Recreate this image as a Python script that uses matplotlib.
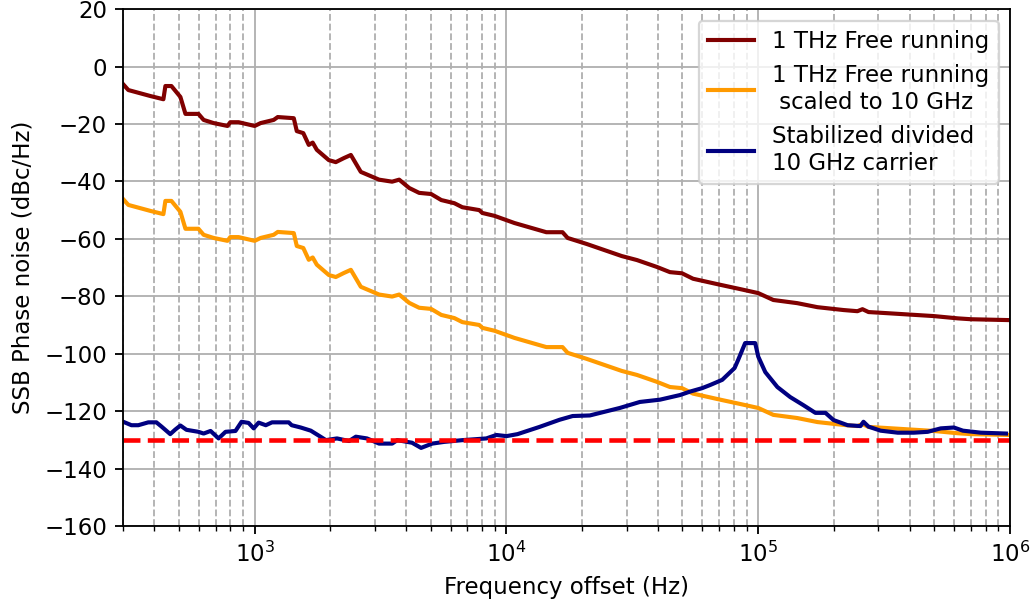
import numpy as np
import matplotlib.pyplot as plt

# 1 THz free running phase noise
f_free = [295, 315, 386, 434, 442, 467, 507, 531, 598, 627, 687, 780, 800, 863,
          1000, 1056, 1190, 1235, 1430, 1470, 1560, 1640, 1700, 1765, 1970, 2100,
          2260, 2410, 2640, 3120, 3515, 3750, 4110, 4500, 5020, 5510, 6210, 6680,
          7800, 8020, 8960, 10760, 14400, 16700, 17500, 20840, 28700, 33000,
          39600, 44600, 49800, 55100, 70600, 84700, 100000, 114800, 142900,
          171800, 218300, 247700, 259400, 274200, 326600, 498000, 621000,
          700000, 990000]
pn_free = [-5.4, -8.2, -10.3, -11.4, -6.8, -6.8, -10.6, -16.5, -16.5, -18.6,
           -19.7, -20.7, -19.4, -19.4, -20.7, -19.7, -18.6, -17.6, -18.0, -22.5,
           -23.2, -27.3, -26.5, -29.0, -32.6, -33.3, -31.9, -30.8, -36.7, -39.4,
           -40.1, -39.4, -42.3, -44.0, -44.4, -46.5, -47.6, -49.0, -50.0, -51.0,
           -52.0, -54.5, -57.7, -57.7, -59.7, -61.8, -66.0, -67.4, -69.8, -71.6,
           -72.0, -73.9, -76.0, -77.5, -78.9, -81.3, -82.4, -83.8, -84.8, -85.2,
           -84.5, -85.5, -85.9, -86.9, -87.7, -88.0, -88.3]

# scaling 1 THz -> 10 GHz: 20*log10(100) = 40 dB
scale_db = 20 * np.log10(1e12 / 10e9)
pn_scaled = np.array(pn_free) - scale_db

# stabilized divided 10 GHz carrier
f_stab = [295, 324, 345, 378, 407, 427, 462, 484, 507, 536, 598, 627, 668, 719,
          766, 839, 887, 946, 991, 1037, 1107, 1172, 1365, 1403, 1524, 1671,
          1803, 1919, 2123, 2371, 2523, 2793, 3119, 3516, 3681, 4217, 4581,
          5070, 5662, 6683, 8318, 9120, 10000, 11070, 13520, 16260, 18320,
          21430, 28180, 33880, 40740, 48870, 53580, 59840, 64420, 71940, 80530,
          83180, 88720, 97270, 100000, 106650, 119120, 133970, 151000, 168660,
          184930, 199070, 226460, 254680, 261820, 274160, 306200, 358100,
          414950, 470950, 530890, 598400, 650130, 765500, 963800]
pn_stab = [-123.4, -124.9, -124.9, -123.9, -123.9, -125.4, -128.0, -126.4,
           -125.0, -126.5, -127.2, -127.8, -126.9, -129.5, -127.2, -126.9,
           -123.7, -124.1, -126.0, -124.0, -124.9, -123.9, -123.9, -124.9,
           -125.7, -126.8, -128.6, -130.1, -129.5, -130.4, -128.9, -129.5,
           -131.3, -131.3, -130.1, -131.0, -132.8, -131.3, -130.7, -130.1,
           -129.5, -128.3, -128.7, -128.0, -125.5, -123.0, -121.7, -121.5,
           -118.9, -116.8, -116.0, -114.4, -113.2, -112.0, -110.9, -109.1,
           -105.0, -102.2, -96.3, -96.3, -101.0, -106.4, -111.6, -115.1,
           -117.9, -120.6, -120.6, -123.1, -124.9, -125.2, -123.7, -125.4,
           -126.8, -127.5, -127.5, -127.2, -126.0, -125.7, -126.8, -127.5,
           -127.8]

floor_db = -130

DPI = 165
fig, ax = plt.subplots(figsize=(1032 / DPI, 604 / DPI), dpi=DPI)

ax.semilogx(f_free, pn_free, color='#800000', lw=1.8, label='1 THz Free running')
ax.semilogx(f_free, pn_scaled, color='#ff9a00', lw=1.8,
            label='1 THz Free running\n scaled to 10 GHz')
ax.semilogx(f_stab, pn_stab, color='#000080', lw=1.8,
            label='Stabilized divided\n10 GHz carrier')
ax.axhline(floor_db, color='red', lw=2, ls='--')

ax.set_xlim(300, 1e6)
ax.set_ylim(-160, 20)
ax.set_yticks(np.arange(-160, 21, 20))

ax.grid(True, which='major', color='#b0b0b0')
ax.grid(True, which='minor', axis='x', color='#b0b0b0', ls='--')

ax.set_xlabel('Frequency offset (Hz)')
ax.set_ylabel('SSB Phase noise (dBc/Hz)')

ax.legend(loc='upper right')

fig.subplots_adjust(left=0.1192, right=0.9787, top=0.985, bottom=0.1291)
fig.savefig('out.png', dpi=DPI)
